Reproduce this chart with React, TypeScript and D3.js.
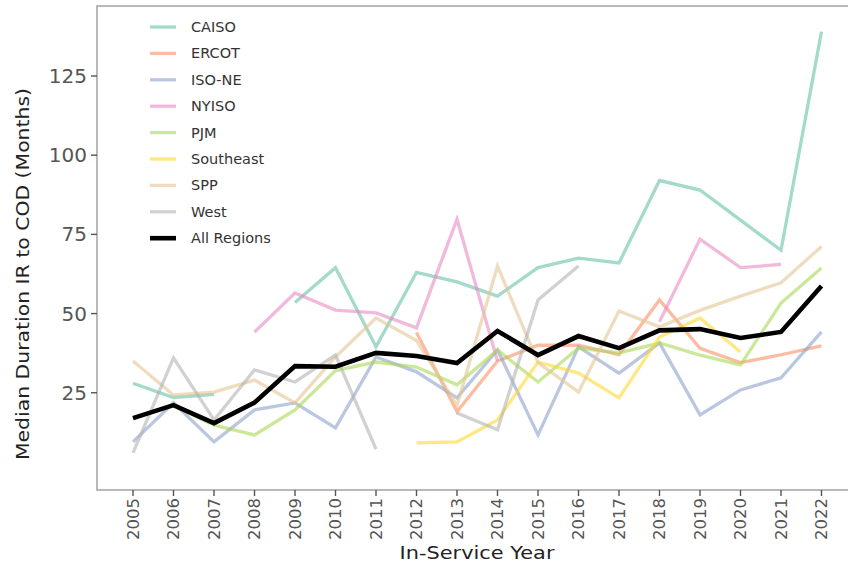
import React from "react";
import * as d3 from "d3";

const years = [2005, 2006, 2007, 2008, 2009, 2010, 2011, 2012, 2013, 2014, 2015, 2016, 2017, 2018, 2019, 2020, 2021, 2022];
const yTicks = [25, 50, 75, 100, 125];

const caiso = [28, 23.5, 24.5, null, 53.5, 64.5, 39.5, 63, 60, 55.5, 64.5, 67.5, 66, 92, 89, 79.5, 70, 139];
const ercot = [null, null, null, null, null, null, null, 44, 19, 35, 40, 40, 37, 54.3, 39, 34.5, 37, 39.8];
const isone = [9.5, 21.8, 9.5, 19.6, 21.8, 13.9, 36.3, 31.6, 23.4, 38.5, 11.7, 39.5, 31.2, 40.7, 18, 25.9, 29.7, 44.2];
const nyiso = [null, null, null, 44.2, 56.5, 51.1, 50.2, 45.5, 79.8, 35, null, null, null, 47.4, 73.5, 64.5, 65.5, null];
const pjm = [17, 21, 14.8, 11.7, 19.6, 32, 34.7, 33.1, 27.5, 38.5, 28.4, 39.1, 37.6, 40.7, 36.9, 33.8, 53.3, 64.4];
const southeast = [null, null, null, null, null, null, null, 9.2, 9.5, 16.4, 34.7, 31.2, 23.4, 42.6, 48.6, 37.9, null, null];
const spp = [35, 24.3, 25.2, 29, 21.8, 36.3, 48.6, 41.5, 21, 65, 34.5, 25.2, 50.8, 45.8, 51, 55.5, 59.7, 71.2];
const west = [6, 36, 16.4, 32.2, 28.4, 36.9, 7.2, null, 18.6, 13.3, 54.3, 65, null, null, null, null, null, null];
const allRegions = [17, 21.1, 15.4, 21.9, 33.4, 33.2, 37.6, 36.6, 34.4, 44.5, 36.9, 42.9, 39.1, 44.7, 45.1, 42.3, 44.2, 58.7];

const seriesNames = ["CAISO", "ERCOT", "ISO-NE", "NYISO", "PJM", "Southeast", "SPP", "West", "All Regions"];
const seriesValues = [caiso, ercot, isone, nyiso, pjm, southeast, spp, west, allRegions];
const seriesColors = ["#66c2a5", "#fc8d62", "#8da0cb", "#e78ac3", "#a6d854", "#ffd92f", "#e5c494", "#b3b3b3", "#000000"];

const W = 848;
const H = 565;
const panel = { left: 97, top: 6, bottom: 490, right: 857 };
const FONT = "'DejaVu Sans', Verdana, sans-serif";

export default function App() {
  const x = d3.scaleLinear().domain([2005, 2022]).range([133, 821.5]);
  const y = d3.scaleLinear().domain([-5.7, 147.1]).range([panel.bottom, panel.top]);

  const line = d3
    .line<number | null>()
    .defined((d) => d != null)
    .x((_, i) => x(years[i]))
    .y((d) => y(d as number));

  const legendX1 = 150;
  const legendX2 = 176;
  const legendTextX = 191;
  const legendY0 = 27;
  const legendStep = 26.4;

  return (
    <svg
      width={W}
      height={H}
      style={{ position: "absolute", left: 0, top: 0, background: "#fff" }}
      fontFamily={FONT}
    >
      <rect x={0} y={0} width={W} height={H} fill="#fff" />
      <rect
        x={panel.left}
        y={panel.top}
        width={panel.right - panel.left}
        height={panel.bottom - panel.top}
        fill="none"
        stroke="#a8a8a8"
        strokeWidth={1.6}
      />
      {seriesValues.map((vals, i) => {
        const isAll = i === seriesValues.length - 1;
        return (
          <path
            key={seriesNames[i]}
            d={line(vals) || ""}
            fill="none"
            stroke={seriesColors[i]}
            strokeOpacity={isAll ? 1 : 0.6}
            strokeWidth={isAll ? 4.6 : 3.3}
            strokeLinejoin="miter"
            strokeLinecap="butt"
          />
        );
      })}
      {yTicks.map((t) => (
        <g key={t}>
          <line x1={panel.left - 6} x2={panel.left} y1={y(t)} y2={y(t)} stroke="#555" strokeWidth={1.4} />
          <text
            x={panel.left - 10}
            y={y(t)}
            textAnchor="end"
            dominantBaseline="central"
            fontSize={20}
            fill="#555"
          >
            {t}
          </text>
        </g>
      ))}
      {years.map((yr) => (
        <g key={yr}>
          <line x1={x(yr)} x2={x(yr)} y1={panel.bottom} y2={panel.bottom + 6} stroke="#555" strokeWidth={1.4} />
          <text
            transform={`translate(${x(yr)},${panel.bottom + 8}) rotate(-90)`}
            textAnchor="end"
            dominantBaseline="central"
            fontSize={16.5}
            fill="#555"
          >
            {yr}
          </text>
        </g>
      ))}
      <text
        x={477}
        y={559}
        textAnchor="middle"
        fontSize={18}
        fill="#222"
        textLength={155}
        lengthAdjust="spacingAndGlyphs"
      >
        In-Service Year
      </text>
      <text
        transform={`translate(29,274) rotate(-90)`}
        textAnchor="middle"
        fontSize={18}
        fill="#222"
        textLength={372}
        lengthAdjust="spacingAndGlyphs"
      >
        Median Duration IR to COD (Months)
      </text>
      {seriesNames.map((name, i) => {
        const ly = legendY0 + i * legendStep;
        const isAll = i === seriesNames.length - 1;
        return (
          <g key={name}>
            <line
              x1={legendX1}
              x2={legendX2}
              y1={ly}
              y2={ly}
              stroke={seriesColors[i]}
              strokeOpacity={isAll ? 1 : 0.6}
              strokeWidth={isAll ? 4.6 : 3.3}
            />
            <text x={legendTextX} y={ly} dominantBaseline="central" fontSize={14.5} fill="#333">
              {name}
            </text>
          </g>
        );
      })}
    </svg>
  );
}
